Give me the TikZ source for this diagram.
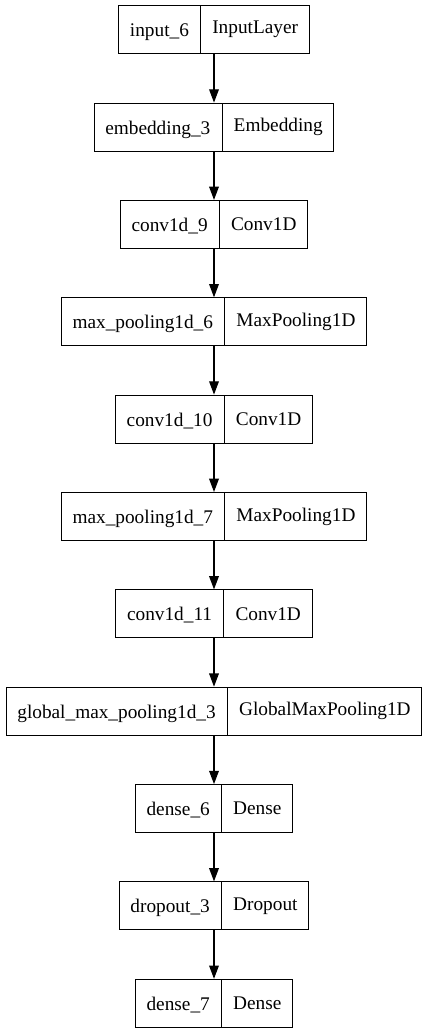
\documentclass[tikz,border=0pt]{standalone}
\usepackage{fontspec}
\setmainfont{Liberation Serif}
\usepackage{tikz}
\usetikzlibrary{shapes.multipart}
\usetikzlibrary{arrows.meta}

\begin{document}
\begin{tikzpicture}[x=1pt,y=-1pt,
		layer/.style={shape=rectangle split, rectangle split horizontal, rectangle split parts=2,
			draw=black, line width=1pt, inner xsep=11.2pt, inner ysep=6pt,
			text height=25pt, text depth=11pt, font=\fontsize{19.3pt}{22pt}\selectfont},
		flow/.style={-{Triangle[length=13.3pt,width=9.7pt]}, line width=1.2pt, black}]
			\useasboundingbox (0,0) rectangle (428,1033);
			\node[layer] (input6) at (214,29.7) {input\_6\nodepart{two}InputLayer};
			\node[layer] (emb3) at (214,127.1) {embedding\_3\nodepart{two}Embedding};
			\node[layer] (conv9) at (214,224.4) {conv1d\_9\nodepart{two}Conv1D};
			\node[layer] (pool6) at (214,321.8) {max\_pooling1d\_6\nodepart{two}MaxPooling1D};
			\node[layer] (conv10) at (214,419.1) {conv1d\_10\nodepart{two}Conv1D};
			\node[layer] (pool7) at (214,516.5) {max\_pooling1d\_7\nodepart{two}MaxPooling1D};
			\node[layer] (conv11) at (214,613.9) {conv1d\_11\nodepart{two}Conv1D};
			\node[layer] (gpool3) at (214,711.2) {global\_max\_pooling1d\_3\nodepart{two}GlobalMaxPooling1D};
			\node[layer] (dense6) at (214,808.6) {dense\_6\nodepart{two}Dense};
			\node[layer] (drop3) at (214,905.9) {dropout\_3\nodepart{two}Dropout};
			\node[layer] (dense7) at (214,1003.3) {dense\_7\nodepart{two}Dense};

			%% lines
			\draw[flow] (input6.south) -- (emb3.north);
			\draw[flow] (emb3.south) -- (conv9.north);
			\draw[flow] (conv9.south) -- (pool6.north);
			\draw[flow] (pool6.south) -- (conv10.north);
			\draw[flow] (conv10.south) -- (pool7.north);
			\draw[flow] (pool7.south) -- (conv11.north);
			\draw[flow] (conv11.south) -- (gpool3.north);
			\draw[flow] (gpool3.south) -- (dense6.north);
			\draw[flow] (dense6.south) -- (drop3.north);
			\draw[flow] (drop3.south) -- (dense7.north);
		\end{tikzpicture}
\end{document}
